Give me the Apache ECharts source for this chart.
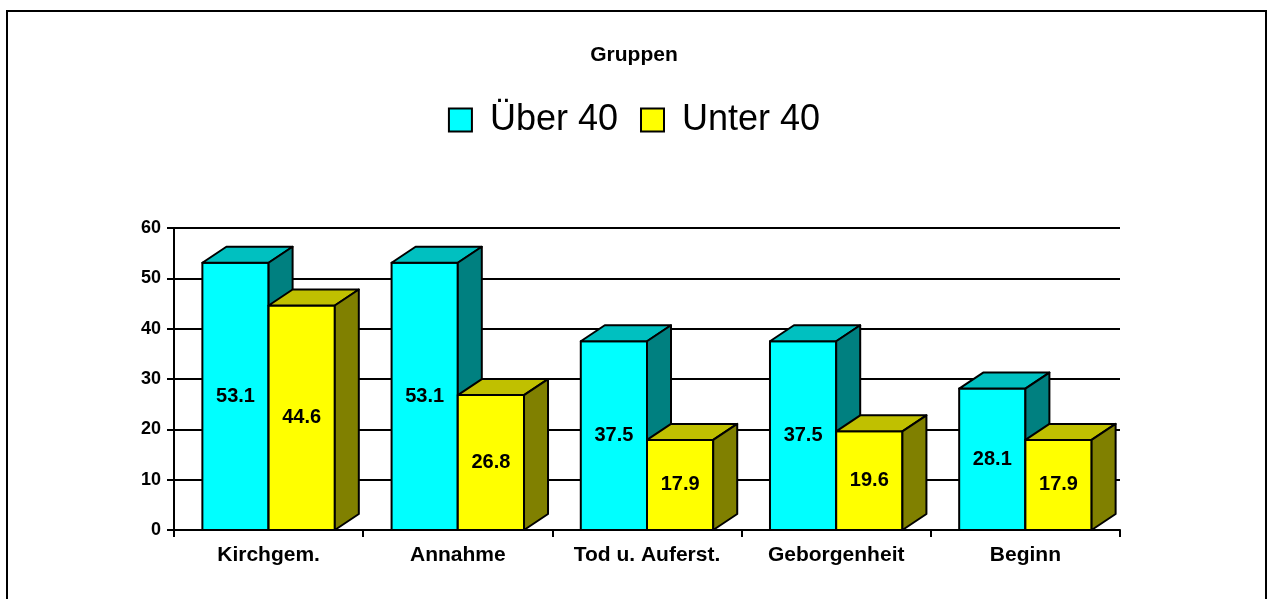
<!DOCTYPE html>
<html>
<head>
<meta charset="utf-8">
<script src="https://cdn.jsdelivr.net/npm/echarts@6/dist/echarts.min.js"></script>
<style>
html,body{margin:0;padding:0;background:#fff;}
#chart{width:1268px;height:599px;}
</style>
</head>
<body>
<div id="chart"></div>
<script>
var categories = ['Kirchgem.', 'Annahme', 'Tod u. Auferst.', 'Geborgenheit', 'Beginn'];
var seriesNames = ['Über 40', 'Unter 40'];
var ueber40 = [53.1, 53.1, 37.5, 37.5, 28.1];
var unter40 = [44.6, 26.8, 17.9, 19.6, 17.9];
var yTicks = [0, 10, 20, 30, 40, 50, 60];

var FONT = 'Arial, "Liberation Sans", sans-serif';
var palettes = [
  {front: '#00FFFF', top: '#00C0C0', side: '#008080'},
  {front: '#FFFF00', top: '#C0C000', side: '#808000'}
];
var BAR_FRAC = 0.35;
var DX = 24, DY = 16;

function makeRender(sIdx) {
  var pal = palettes[sIdx];
  return function (params, api) {
    var cat = api.value(0), v = api.value(1);
    var base = api.coord([cat, 0]);
    var topP = api.coord([cat, v]);
    var bw = api.size([1, 0])[0];
    var w = bw * BAR_FRAC;
    var x0 = base[0] - w + sIdx * w;
    var x1 = x0 + w;
    var ty = topP[1], by = base[1];
    var stroke = {stroke: '#000', lineWidth: 2, lineJoin: 'round'};
    return {
      type: 'group',
      children: [
        {type: 'polygon', shape: {points: [[x0, ty], [x1, ty], [x1, by], [x0, by]]},
          style: Object.assign({fill: pal.front}, stroke)},
        {type: 'polygon', shape: {points: [[x0, ty], [x0 + DX, ty - DY], [x1 + DX, ty - DY], [x1, ty]]},
          style: Object.assign({fill: pal.top}, stroke)},
        {type: 'polygon', shape: {points: [[x1, ty], [x1 + DX, ty - DY], [x1 + DX, by - DY], [x1, by]]},
          style: Object.assign({fill: pal.side}, stroke)},
        {type: 'text', style: {text: v.toFixed(1), x: (x0 + x1) / 2, y: (ty + by) / 2,
          align: 'center', verticalAlign: 'middle', fill: '#000',
          fontSize: 20, fontWeight: 'bold', fontFamily: FONT}}
      ]
    };
  };
}

function toData(arr) { return arr.map(function (v, i) { return [i, v]; }); }

var chart = echarts.init(document.getElementById('chart'), null, {renderer: 'canvas'});
chart.setOption({
  backgroundColor: '#fff',
  animation: false,
  title: {
    text: 'Gruppen', left: 'center', top: 45, padding: 0,
    textStyle: {fontSize: 21, fontWeight: 'bold', fontFamily: FONT, color: '#000'}
  },
  legend: {
    data: seriesNames, top: 97, left: 'center', itemGap: 22,
    itemWidth: 23, itemHeight: 23, icon: 'rect',
    itemStyle: {borderColor: '#000', borderWidth: 2},
    textStyle: {fontSize: 36, fontFamily: FONT, color: '#000', padding: [0, 0, 0, 13]}
  },
  graphic: [{
    type: 'rect', shape: {x: 7, y: 11, width: 1259, height: 620},
    style: {fill: 'none', stroke: '#000', lineWidth: 2}, silent: true, z: 100
  }],
  grid: {left: 174, right: 148, top: 228, bottom: 69},
  xAxis: {
    type: 'category', data: categories,
    axisLine: {lineStyle: {color: '#000', width: 2}},
    axisTick: {show: true, length: 7, lineStyle: {color: '#000', width: 2}},
    axisLabel: {fontSize: 21, fontWeight: 'bold', fontFamily: FONT, color: '#000', margin: 15, interval: 0}
  },
  yAxis: {
    type: 'value', min: yTicks[0], max: yTicks[yTicks.length - 1], interval: 10,
    axisLine: {show: true, lineStyle: {color: '#000', width: 2}},
    axisTick: {show: true, length: 7, lineStyle: {color: '#000', width: 2}},
    splitLine: {show: true, lineStyle: {color: '#000', width: 2}},
    axisLabel: {fontSize: 18, fontWeight: 'bold', fontFamily: FONT, color: '#000', margin: 13}
  },
  series: [
    {name: seriesNames[0], type: 'custom', renderItem: makeRender(0), data: toData(ueber40),
      encode: {x: 0, y: 1}, itemStyle: {color: palettes[0].front}},
    {name: seriesNames[1], type: 'custom', renderItem: makeRender(1), data: toData(unter40),
      encode: {x: 0, y: 1}, itemStyle: {color: palettes[1].front}}
  ]
});
</script>
</body>
</html>
